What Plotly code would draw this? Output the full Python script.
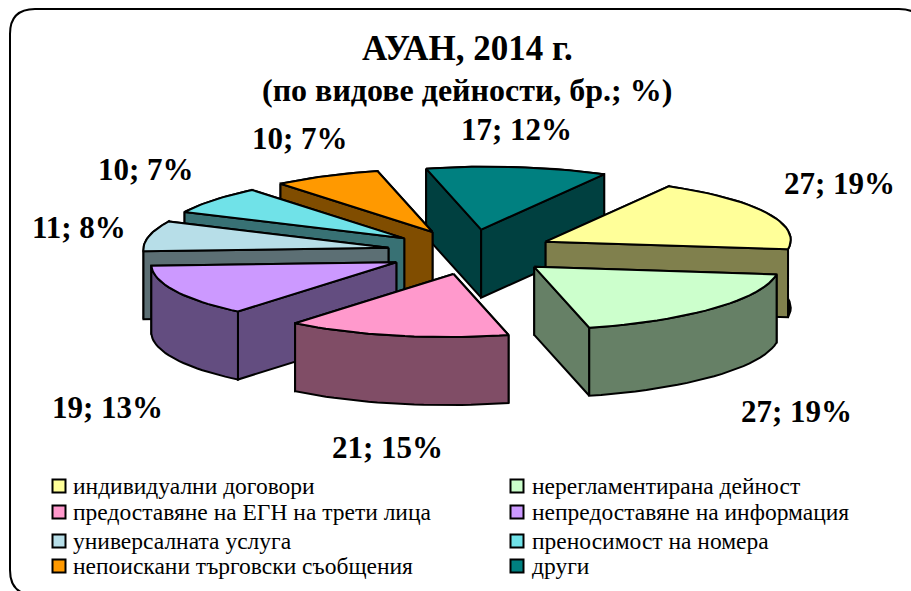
import math
import plotly.graph_objects as go

categories = ["индивидуални договори", "нерегламентирана дейност",
              "предоставяне на ЕГН на трети лица", "непредоставяне на информация",
              "универсалната услуга", "преносимост на номера",
              "непоискани търговски съобщения", "други"]
values = [27, 27, 21, 19, 11, 10, 10, 17]
percents = [19, 19, 15, 13, 8, 7, 7, 12]
top_colors = ["#FFFF99", "#CCFFCC", "#FF99CC", "#CC99FF", "#B7DEE8", "#70E2E8", "#FF9900", "#008080"]
side_colors = ["#80804D", "#668066", "#804D66", "#634D80", "#5C6F74", "#387174", "#804D00", "#004040"]
arc_colors = ["#000000", "#668066", "#804D66", "#634D80", "#5C6F74", "#387174", "#804D00", "#004040"]
draw_order = [7, 6, 5, 4, 3, 2, 0, 1]

title_lines = ["АУАН, 2014 г.", "(по видове дейности, бр.; %)"]

# projection constants of the 3-D pie (pixels)
CX, CY = 471, 252
RX, RY = 245, 63
EX, EY = 84, 22.5
DEPTH = 68
SHEAR = 0.11
START = 61.5

FONT = "Liberation Serif"

def project(angle, r, ox, oy):
    a = math.radians(angle)
    y = r * RY * math.sin(a)
    return ox + r * RX * math.cos(a) + SHEAR * y, oy - y

fig = go.Figure()
total = sum(values)

bounds = []
a = START
for v in values:
    bounds.append((a, a - v / total * 360))
    a -= v / total * 360

def poly(xs, ys, color):
    fig.add_trace(go.Scatter(x=xs + xs[:1], y=ys + ys[:1], mode="lines", fill="toself",
                             fillcolor=color, line=dict(color="black", width=2),
                             hoverinfo="skip", showlegend=False))

for i in draw_order:
    a0, a1 = bounds[i]
    mid = math.radians((a0 + a1) / 2)
    ox = CX + EX * math.cos(mid)
    oy = CY - EY * math.sin(mid)
    n = 24
    arc = [project(a0 + (a1 - a0) * k / n, 1, ox, oy) for k in range(n + 1)]
    ax = [p[0] for p in arc]
    ay = [p[1] for p in arc]
    faces = [
        ([ox, ax[0], ax[0], ox], [oy, ay[0], ay[0] + DEPTH, oy + DEPTH], side_colors[i]),
        ([ox, ax[-1], ax[-1], ox], [oy, ay[-1], ay[-1] + DEPTH, oy + DEPTH], side_colors[i]),
        (ax + ax[::-1], ay + [y + DEPTH for y in ay[::-1]], arc_colors[i]),
    ]
    faces.sort(key=lambda f: sum(f[1]) / len(f[1]))
    for xs, ys, col in faces:
        poly(xs, ys, col)
    poly([ox] + ax, [oy] + ay, top_colors[i])

# data labels
label_pos = [(839, 183), (796, 411), (387, 447), (107, 407), (79, 227), (146, 169), (300, 138), (516, 129)]
anns = []
for (x, y), v, p in zip(label_pos, values, percents):
    anns.append(dict(x=x, y=y, text=f"<b>{v}; {p}%</b>", showarrow=False, xanchor="center", yanchor="middle",
                     font=dict(family=FONT, size=31, color="black")))
anns.append(dict(x=467, y=48, text=f"<b>{title_lines[0]}</b>", showarrow=False, xanchor="center", yanchor="middle",
                 font=dict(family=FONT, size=35, color="black")))
anns.append(dict(x=467, y=90, text=f"<b>{title_lines[1]}</b>", showarrow=False, xanchor="center", yanchor="middle",
                 font=dict(family=FONT, size=32, color="black")))

# legend
rows = [486, 512, 541, 566]
lx = []
ly = []
for i, c in enumerate(categories):
    col = i % 2
    row = rows[i // 2]
    kx = [59, 517][col]
    tx = [71, 530][col]
    lx.append(kx)
    ly.append(row)
    anns.append(dict(x=tx, y=row, text=c, showarrow=False, xanchor="left", yanchor="middle",
                     font=dict(family=FONT, size=23.5, color="black")))
fig.add_trace(go.Scatter(x=lx, y=ly, mode="markers", hoverinfo="skip", showlegend=False,
                         marker=dict(symbol="square", size=13, color=top_colors,
                                     line=dict(color="black", width=2))))

fig.update_layout(
    width=911, height=591, margin=dict(l=0, r=0, t=0, b=0),
    paper_bgcolor="white", plot_bgcolor="white", showlegend=False,
    xaxis=dict(range=[0, 911], visible=False, fixedrange=True),
    yaxis=dict(range=[591, 0], visible=False, fixedrange=True),
    annotations=anns,
    shapes=[dict(type="path", xref="x", yref="y", layer="below",
                 path="M 10 570 L 10 34 Q 10 9 35 9 L 899 9 Q 924 9 924 34 L 924 570 Q 924 595 899 595 L 35 595 Q 10 595 10 570 Z",
                 line=dict(color="black", width=2))],
)
fig.write_html("out.html", config={"displayModeBar": False},
               post_script="document.body.style.margin='0';document.documentElement.style.overflow='hidden';")
